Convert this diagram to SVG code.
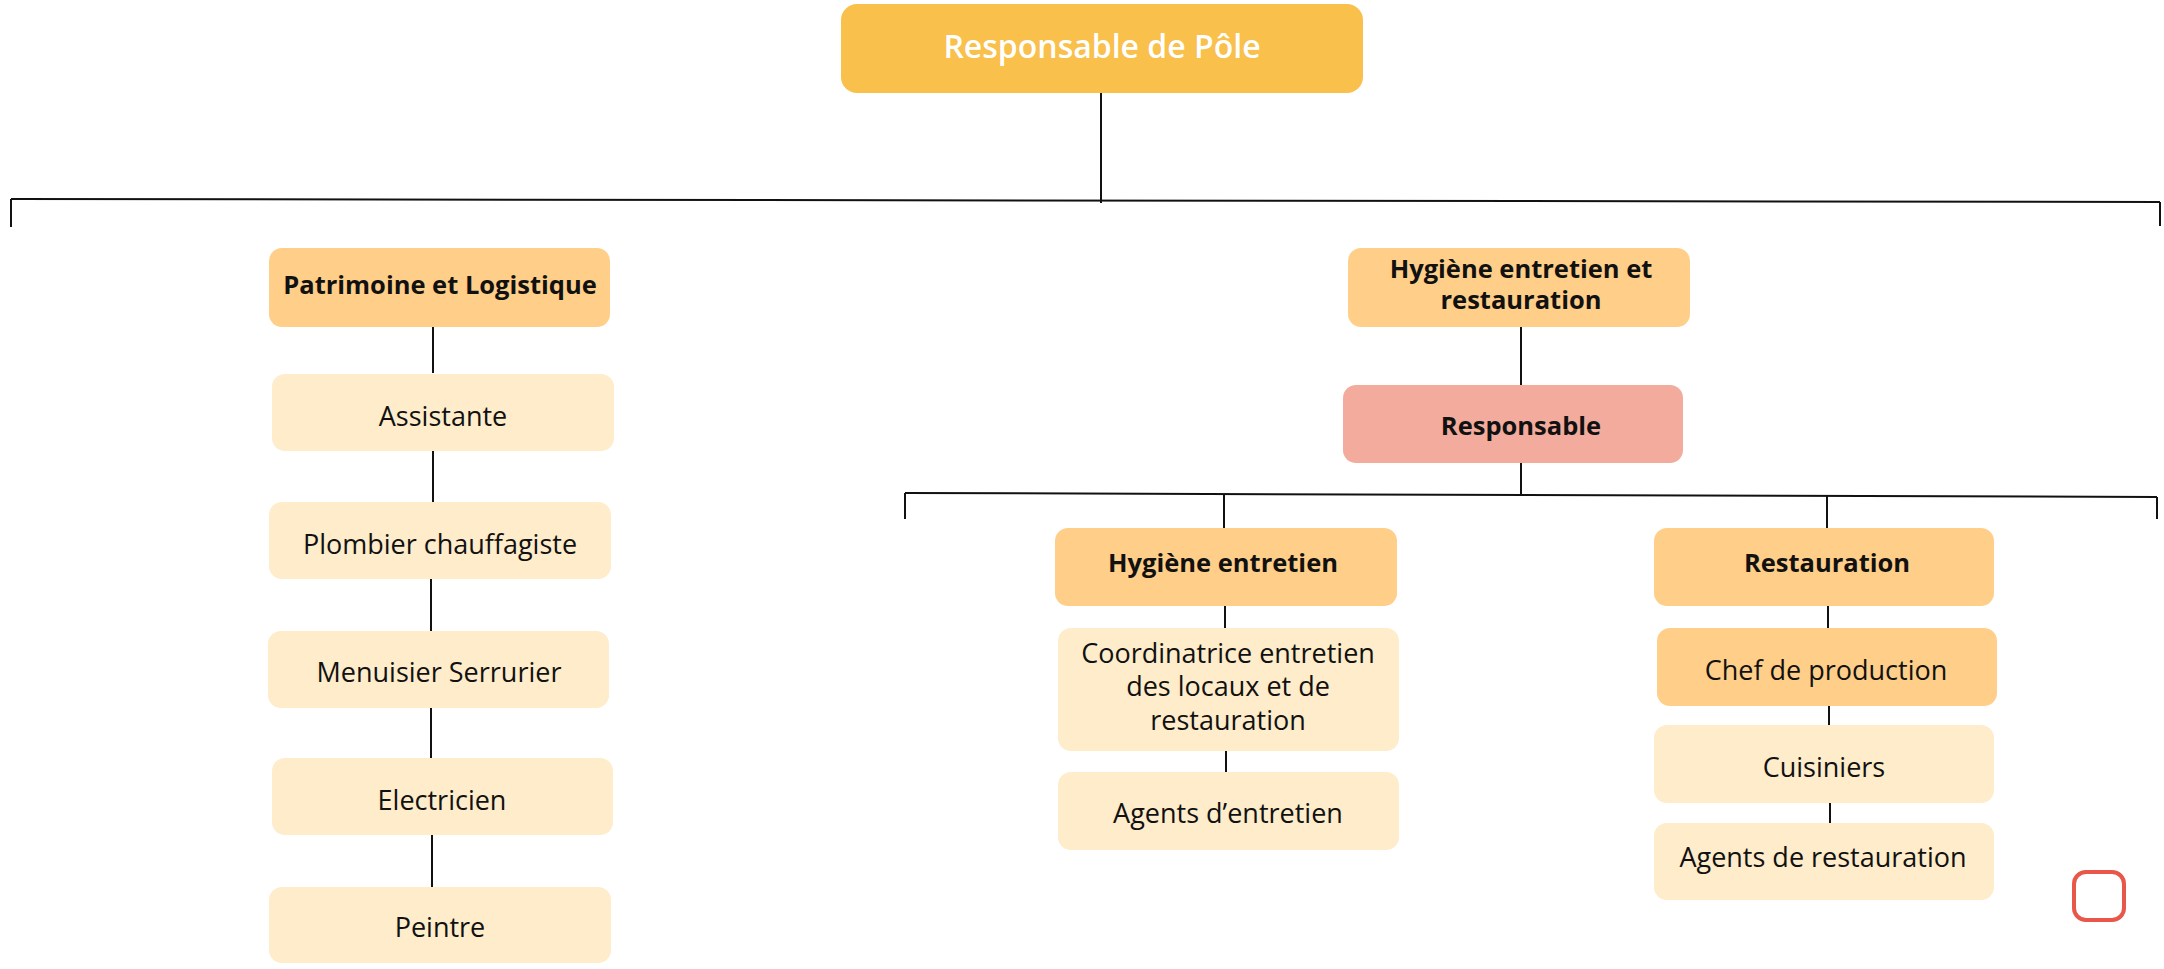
<svg xmlns="http://www.w3.org/2000/svg" width="2164" height="969" viewBox="0 0 2164 969">
<style>
.top{fill:#F9C04B}
.hdr{fill:#FFCE88}
.lt{fill:#FEECCB}
.sal{fill:#F2AB9C}
.ttl{font-family:"Open Sans","Liberation Sans",sans-serif;font-weight:600;font-size:32px;fill:#FFFFFF;text-anchor:middle}
.hb{font-family:"Open Sans","Liberation Sans",sans-serif;font-weight:700;font-size:25.5px;fill:#111111;text-anchor:middle}
.bd{font-family:"Open Sans","Liberation Sans",sans-serif;font-size:27px;fill:#111111;text-anchor:middle}
.ln{stroke:#111111;stroke-width:2;fill:none}
</style>
<rect width="2164" height="969" fill="#FFFFFF"/>
<g id="connectors" class="ln">
<line x1="1101" y1="93" x2="1101" y2="203"/>
<line x1="11" y1="199" x2="2160" y2="202"/>
<line x1="11" y1="199" x2="11" y2="227"/>
<line x1="2160" y1="202" x2="2160" y2="226"/>
<line x1="433" y1="327" x2="433" y2="373"/>
<line x1="433" y1="451" x2="433" y2="502"/>
<line x1="431" y1="579" x2="431" y2="631"/>
<line x1="431" y1="708" x2="431" y2="758"/>
<line x1="432" y1="835" x2="432" y2="887"/>
<line x1="1521" y1="327" x2="1521" y2="385"/>
<line x1="1521" y1="463" x2="1521" y2="494"/>
<line x1="905" y1="493" x2="2157" y2="497"/>
<line x1="905" y1="493" x2="905" y2="519"/>
<line x1="2157" y1="497" x2="2157" y2="519"/>
<line x1="1224" y1="495" x2="1224" y2="528"/>
<line x1="1827" y1="496" x2="1827" y2="528"/>
<line x1="1225" y1="606" x2="1225" y2="628"/>
<line x1="1226" y1="751" x2="1226" y2="772"/>
<line x1="1828" y1="606" x2="1828" y2="628"/>
<line x1="1829" y1="706" x2="1829" y2="725"/>
<line x1="1830" y1="803" x2="1830" y2="823"/>
</g>
<g id="responsable-pole">
<rect class="top" x="841" y="4" width="522" height="89" rx="16"/>
<text class="ttl" x="1102" y="58">Responsable de Pôle</text>
</g>
<g id="patrimoine">
<rect class="hdr" x="269" y="248" width="341" height="79" rx="13"/>
<text class="hb" x="440" y="294">Patrimoine et Logistique</text>
</g>
<g id="assistante">
<rect class="lt" x="272" y="374" width="342" height="77" rx="13"/>
<text class="bd" x="443" y="426">Assistante</text>
</g>
<g id="plombier">
<rect class="lt" x="269" y="502" width="342" height="77" rx="13"/>
<text class="bd" x="440" y="554">Plombier chauffagiste</text>
</g>
<g id="menuisier">
<rect class="lt" x="268" y="631" width="341" height="77" rx="13"/>
<text class="bd" x="439" y="682">Menuisier Serrurier</text>
</g>
<g id="electricien">
<rect class="lt" x="272" y="758" width="341" height="77" rx="13"/>
<text class="bd" x="442" y="810">Electricien</text>
</g>
<g id="peintre">
<rect class="lt" x="269" y="887" width="342" height="76" rx="13"/>
<text class="bd" x="440" y="937">Peintre</text>
</g>
<g id="hygiene-restauration">
<rect class="hdr" x="1348" y="248" width="342" height="79" rx="13"/>
<text class="hb" x="1521" y="278">Hygiène entretien et</text>
<text class="hb" x="1521" y="309">restauration</text>
</g>
<g id="responsable">
<rect class="sal" x="1343" y="385" width="340" height="78" rx="13"/>
<text class="hb" x="1521" y="435">Responsable</text>
</g>
<g id="hygiene-entretien">
<rect class="hdr" x="1055" y="528" width="342" height="78" rx="13"/>
<text class="hb" x="1223" y="572">Hygiène entretien</text>
</g>
<g id="coordinatrice">
<rect class="lt" x="1058" y="628" width="341" height="123" rx="13"/>
<text class="bd" x="1228" y="663">Coordinatrice entretien</text>
<text class="bd" x="1228" y="696">des locaux et de</text>
<text class="bd" x="1228" y="730">restauration</text>
</g>
<g id="agents-entretien">
<rect class="lt" x="1058" y="772" width="341" height="78" rx="13"/>
<text class="bd" x="1228" y="823">Agents d’entretien</text>
</g>
<g id="restauration">
<rect class="hdr" x="1654" y="528" width="340" height="78" rx="13"/>
<text class="hb" x="1827" y="572">Restauration</text>
</g>
<g id="chef-production">
<rect class="hdr" x="1657" y="628" width="340" height="78" rx="13"/>
<text class="bd" x="1826" y="680">Chef de production</text>
</g>
<g id="cuisiniers">
<rect class="lt" x="1654" y="725" width="340" height="78" rx="13"/>
<text class="bd" x="1824" y="777">Cuisiniers</text>
</g>
<g id="agents-restauration">
<rect class="lt" x="1654" y="823" width="340" height="77" rx="13"/>
<text class="bd" x="1823" y="867">Agents de restauration</text>
</g>
<g id="red-square">
<rect x="2074" y="872" width="50" height="48" rx="12" fill="#FFFFFF" stroke="#E8574A" stroke-width="4"/>
</g>
</svg>
